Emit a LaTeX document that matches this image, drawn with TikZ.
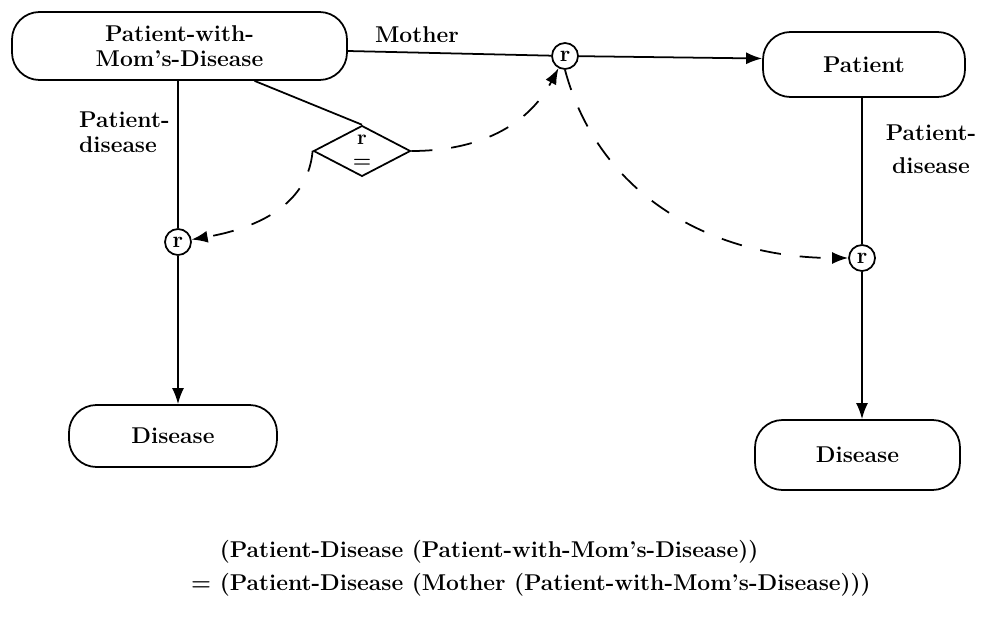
\documentclass[tikz,border=0pt]{standalone}
\usetikzlibrary{arrows.meta,shapes.geometric,positioning,calc}
\begin{document}
\begin{tikzpicture}
    \tikzstyle{every node}=[font=\fontsize{13}{14}\selectfont\bfseries]
    \tikzstyle{concept}=[draw,line width=1pt,rounded corners=0.55cm,inner sep=2pt,align=center]
    \tikzstyle{rel}=[draw,circle,line width=1pt,minimum size=0.52cm,inner sep=0pt]
    \tikzstyle{egal}=[draw,diamond,line width=1pt,minimum width=1.94cm,minimum height=0.92cm,inner sep=0pt,align=center]
    \tikzstyle{annot}=[align=left]
    \tikzstyle{lien}=[line width=1pt]
    \tikzstyle{fleche}=[lien,-{Latex[length=3.2mm,width=2.4mm]}]
    \tikzstyle{tirets}=[fleche,dash pattern=on 0.42cm off 0.38cm]

\useasboundingbox (0,0) rectangle (19.66,-12.44);

% Concepts
\node[concept,minimum width=6.7cm,minimum height=1.36cm] (C-1) at (3.59,-0.92) {Patient-with-\\Mom's-Disease};
\node[concept,minimum width=4.04cm,minimum height=1.3cm] (C-2) at (17.28,-1.29) {Patient};
\node[concept,minimum width=4.16cm,minimum height=1.24cm] (C-3) at (3.46,-8.72) {Disease};
\node[concept,minimum width=4.1cm,minimum height=1.4cm] (C-4) at (17.15,-9.1) {Disease};

% Relations
\node[rel] (R-0) at (11.3,-1.12) {r};
\node[rel] (R-1) at (3.56,-4.84) {r};
\node[rel] (R-2) at (17.24,-5.16) {r};
\node[egal,font=\fontsize{12}{13}\selectfont\bfseries] (E) at (7.24,-3.02) {r\\=};

% Etiquettes
\node[annot,anchor=west] (A-1) at (1.46,-2.64) {Patient-\\disease};
\node[annot,align=center,font=\fontsize{13}{19}\selectfont\bfseries] (A-2) at (18.62,-2.98) {Patient-\\disease};

% Aretes
\path[lien] ([yshift=-0.1cm]C-1.east) edge node[pos=0.34,above=2pt]{Mother} (R-0);
\draw[fleche] (R-0) -- ([yshift=0.12cm]C-2.west);
\draw[lien] (R-1 |- C-1.south) -- (R-1);
\draw[fleche] (R-1) -- (R-1 |- C-3.north);
\draw[lien] (R-2 |- C-2.south) -- (R-2);
\draw[fleche] (R-2) -- (R-2 |- C-4.north);
\draw[lien] ([xshift=1.5cm]C-1.south) -- (E.north);

% Egalite
\draw[tirets] (E.west) to[out=-95,in=10] (R-1);
\draw[tirets] (E.east) to[out=0,in=-118] (R-0);
\draw[tirets] (R-0.south) to[out=-75,in=180] (R-2);

% Formule
\node[annot,anchor=west,font=\fontsize{13}{19}\selectfont\bfseries] (F) at (3.7,-11.37)
  {\hphantom{= }(Patient-Disease (Patient-with-Mom's-Disease))\\= (Patient-Disease (Mother (Patient-with-Mom's-Disease)))};

\end{tikzpicture}
\end{document}
